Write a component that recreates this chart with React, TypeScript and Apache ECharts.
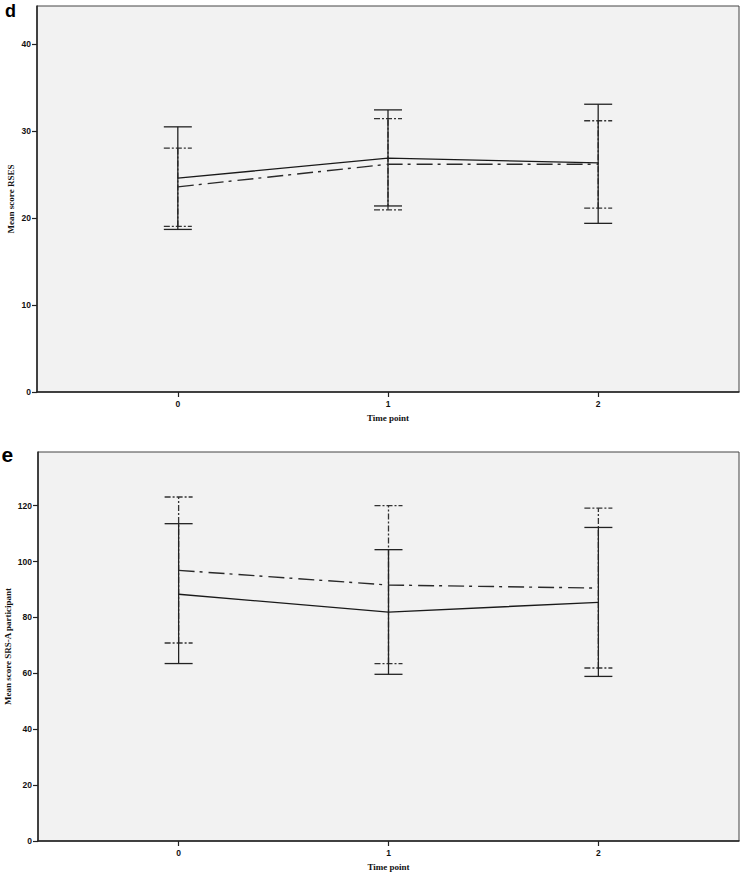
import React, { useEffect, useRef } from "react";
import * as echarts from "echarts";

// Panel d (RSES)
const timePoints = [0, 1, 2];
const rsesSolidMean = [24.6, 26.9, 26.35];
const rsesSolidLow = [18.7, 21.4, 19.4];
const rsesSolidHigh = [30.5, 32.45, 33.1];
const rsesDashMean = [23.6, 26.2, 26.2];
const rsesDashLow = [19.05, 20.95, 21.15];
const rsesDashHigh = [28.05, 31.45, 31.2];
const rsesTicks = [0, 10, 20, 30, 40];

// Panel e (SRS-A participant)
const srsSolidMean = [88.3, 81.9, 85.4];
const srsSolidLow = [63.5, 59.65, 58.9];
const srsSolidHigh = [113.55, 104.25, 112.2];
const srsDashMean = [96.85, 91.6, 90.5];
const srsDashLow = [70.85, 63.5, 61.9];
const srsDashHigh = [123.1, 120.0, 119.1];
const srsTicks = [0, 20, 40, 60, 80, 100, 120];

const DASHDOT_LINE = [16, 5, 3, 6];
const DASHDOT_BAR = [6, 2, 2, 2];

function errRender(color: string, dash: number[] | null) {
  return (params: any, api: any) => {
    const x = api.value(0);
    const lo = api.coord([x, api.value(1)]);
    const hi = api.coord([x, api.value(2)]);
    const hw = 14;
    const style: any = { stroke: color, lineWidth: 1.3, fill: "none" };
    if (dash) style.lineDash = dash;
    return {
      type: "group",
      children: [
        { type: "line", shape: { x1: lo[0], y1: lo[1], x2: hi[0], y2: hi[1] }, style },
        { type: "line", shape: { x1: hi[0] - hw, y1: hi[1], x2: hi[0] + hw, y2: hi[1] }, style },
        { type: "line", shape: { x1: lo[0] - hw, y1: lo[1], x2: lo[0] + hw, y2: lo[1] }, style },
      ],
    };
  };
}

const tickLabelStyle = {
  fontFamily: "Liberation Sans",
  fontWeight: "bold" as const,
  fontSize: 8.5,
  color: "#111",
};
const nameStyle = {
  fontFamily: "Liberation Serif",
  fontWeight: "bold" as const,
  fontSize: 9,
  color: "#111",
};

function xAxisFor(gridIndex: number) {
  return {
    type: "value",
    gridIndex,
    min: -0.67,
    max: 2.67,
    name: "Time point",
    nameLocation: "middle",
    nameGap: 21,
    nameMoveOverlap: false,
    nameTextStyle: nameStyle,
    axisLine: { show: true, onZero: false, lineStyle: { color: "#222", width: 1.5 } },
    axisTick: { show: true, customValues: timePoints, length: 5, lineStyle: { color: "#222", width: 1.2 } },
    axisLabel: { customValues: timePoints, margin: 7, ...tickLabelStyle },
    splitLine: { show: false },
  };
}

function yAxisFor(gridIndex: number, max: number, ticks: number[], name: string, gap: number) {
  return {
    type: "value",
    gridIndex,
    min: 0,
    max,
    name,
    nameLocation: "middle",
    nameGap: gap,
    nameMoveOverlap: false,
    nameTextStyle: nameStyle,
    axisLine: { show: true, onZero: false, lineStyle: { color: "#222", width: 1.5 } },
    axisTick: { show: true, customValues: ticks, length: 5, lineStyle: { color: "#222", width: 1.2 } },
    axisLabel: { customValues: ticks, margin: 6, ...tickLabelStyle },
    splitLine: { show: false },
  };
}

function zip2(xs: number[], ys: number[]) {
  return xs.map((x, i) => [x, ys[i]]);
}
function zip3(xs: number[], lo: number[], hi: number[]) {
  return xs.map((x, i) => [x, lo[i], hi[i]]);
}

export default function App() {
  const ref = useRef<HTMLDivElement>(null);
  useEffect(() => {
    document.body.style.margin = "0";
    const chart = echarts.init(ref.current!, null, { renderer: "svg" });
    const lineSolid = { color: "#1a1a1a", width: 1.4 };
    const lineDash = { color: "#2a2a2a", width: 1.4, type: DASHDOT_LINE };
    chart.setOption({
      animation: false,
      backgroundColor: "#ffffff",
      grid: [
        { left: 37, top: 6, width: 702, height: 386, show: true, backgroundColor: "#f2f2f2", borderColor: "#444", borderWidth: 1, containLabel: false, outerBoundsMode: "none" },
        { left: 38, top: 452, width: 701, height: 389, show: true, backgroundColor: "#f2f2f2", borderColor: "#444", borderWidth: 1, containLabel: false, outerBoundsMode: "none" },
      ],
      xAxis: [xAxisFor(0), xAxisFor(1)],
      yAxis: [
        yAxisFor(0, 44.4, rsesTicks, "Mean score RSES", 22),
        yAxisFor(1, 139.2, srsTicks, "Mean score SRS-A participant", 26),
      ],
      graphic: [
        { type: "text", left: 5, top: 1.5, style: { text: "d", fontFamily: "Liberation Sans", fontWeight: "bold", fontSize: 18, fill: "#000" } },
        { type: "text", left: 1.5, top: 444, style: { text: "e", fontFamily: "Liberation Sans", fontWeight: "bold", fontSize: 21, fill: "#000" } },
      ],
      series: [
        // Panel d
        { type: "custom", xAxisIndex: 0, yAxisIndex: 0, renderItem: errRender("#333", DASHDOT_BAR), data: zip3(timePoints, rsesDashLow, rsesDashHigh), encode: { x: 0, y: [1, 2] }, silent: true },
        { type: "line", xAxisIndex: 0, yAxisIndex: 0, data: zip2(timePoints, rsesDashMean), symbol: "none", lineStyle: lineDash, silent: true },
        { type: "line", xAxisIndex: 0, yAxisIndex: 0, data: zip2(timePoints, rsesSolidMean), symbol: "none", lineStyle: lineSolid, silent: true },
        { type: "custom", xAxisIndex: 0, yAxisIndex: 0, renderItem: errRender("#222", null), data: zip3(timePoints, rsesSolidLow, rsesSolidHigh), encode: { x: 0, y: [1, 2] }, silent: true },
        // Panel e
        { type: "custom", xAxisIndex: 1, yAxisIndex: 1, renderItem: errRender("#333", DASHDOT_BAR), data: zip3(timePoints, srsDashLow, srsDashHigh), encode: { x: 0, y: [1, 2] }, silent: true },
        { type: "line", xAxisIndex: 1, yAxisIndex: 1, data: zip2(timePoints, srsDashMean), symbol: "none", lineStyle: lineDash, silent: true },
        { type: "line", xAxisIndex: 1, yAxisIndex: 1, data: zip2(timePoints, srsSolidMean), symbol: "none", lineStyle: lineSolid, silent: true },
        { type: "custom", xAxisIndex: 1, yAxisIndex: 1, renderItem: errRender("#222", null), data: zip3(timePoints, srsSolidLow, srsSolidHigh), encode: { x: 0, y: [1, 2] }, silent: true },
      ],
    });
    return () => chart.dispose();
  }, []);
  return <div ref={ref} style={{ width: 743, height: 875 }} />;
}
